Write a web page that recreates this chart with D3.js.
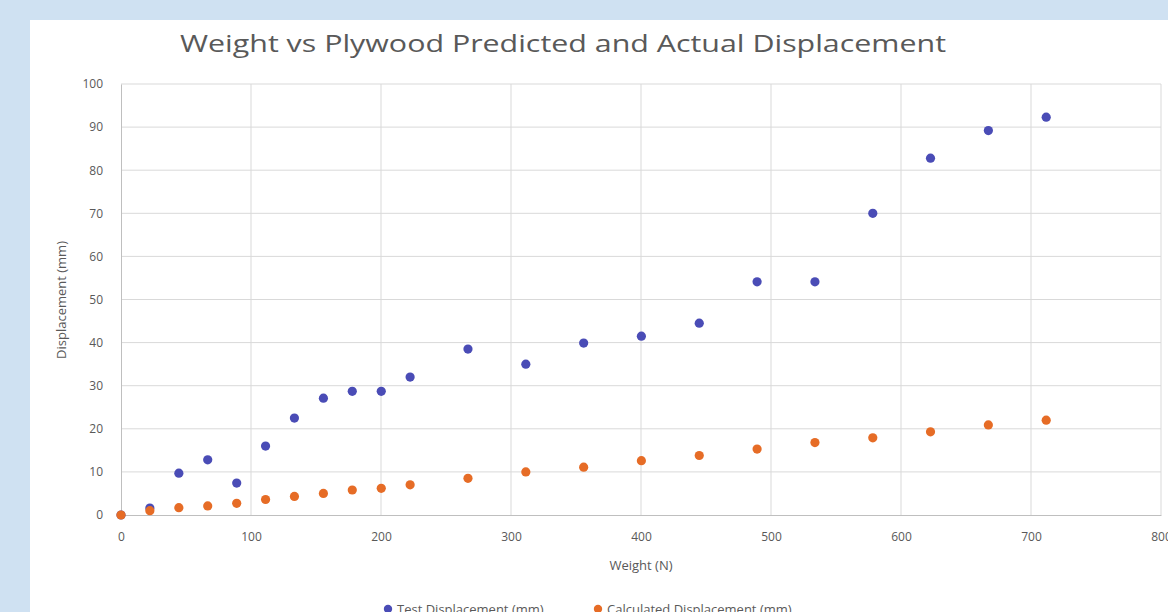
<!DOCTYPE html>
<html>
<head>
<meta charset="utf-8">
<script src="https://cdn.jsdelivr.net/npm/d3@7"></script>
<style>
  html, body { margin: 0; padding: 0; background: #cfe1f2; }
  svg { display: block; }
</style>
</head>
<body>
<svg id="chart" width="1168" height="612"></svg>
<script>
// Applied load (N) for each test step
const weights = [0, 22.2, 44.5, 66.7, 89, 111.2, 133.4, 155.7, 177.9, 200.2, 222.4, 266.9, 311.4, 355.9, 400.3, 444.8, 489.3, 533.8, 578.3, 622.7, 667.2, 711.7];
// Measured displacement (mm)
const testDisp = [0, 1.6, 9.7, 12.8, 7.4, 16.0, 22.5, 27.1, 28.7, 28.7, 32.0, 38.5, 35.0, 39.9, 41.5, 44.5, 54.1, 54.1, 70.0, 82.8, 89.2, 92.3];
// Calculated displacement (mm)
const calcDisp = [0, 1.0, 1.7, 2.1, 2.7, 3.6, 4.3, 5.0, 5.8, 6.2, 7.0, 8.5, 10.0, 11.1, 12.6, 13.8, 15.3, 16.8, 17.9, 19.3, 20.9, 22.0];

const xTicks = [0, 100, 200, 300, 400, 500, 600, 700, 800];
const yTicks = [0, 10, 20, 30, 40, 50, 60, 70, 80, 90, 100];

const seriesNames = ["Test Displacement (mm)", "Calculated Displacement (mm)"];
const seriesColors = ["#4a4cb6", "#e66c26"];

const svg = d3.select("#chart");
const font = "'Open Sans', 'Liberation Sans', sans-serif";
const textColor = "#595959";

// chart panel
svg.append("rect").attr("x", 30).attr("y", 20).attr("width", 1200).attr("height", 650).attr("fill", "#ffffff");

const x = d3.scaleLinear().domain([0, 800]).range([121, 1161]);
const y = d3.scaleLinear().domain([0, 100]).range([515, 84]);

// gridlines
svg.append("g").selectAll("line").data(yTicks.filter(d => d > 0)).join("line")
  .attr("x1", x(0)).attr("x2", x(800))
  .attr("y1", d => y(d)).attr("y2", d => y(d))
  .attr("stroke", "#d9d9d9").attr("stroke-width", 1);
svg.append("g").selectAll("line").data(xTicks.filter(d => d > 0)).join("line")
  .attr("x1", d => x(d)).attr("x2", d => x(d))
  .attr("y1", y(0)).attr("y2", y(100))
  .attr("stroke", "#d9d9d9").attr("stroke-width", 1);

// axes
const xAxis = svg.append("g").attr("transform", `translate(0,${y(0)})`)
  .call(d3.axisBottom(x).tickValues(xTicks).tickSize(0).tickPadding(17));
const yAxis = svg.append("g").attr("transform", `translate(${x(0)},0)`)
  .call(d3.axisLeft(y).tickValues(yTicks).tickSize(0).tickPadding(18));
[xAxis, yAxis].forEach(g => {
  g.select(".domain").attr("stroke", "#bfbfbf").attr("stroke-width", 1);
  g.selectAll("text").attr("fill", textColor).attr("font-family", font).attr("font-size", 12);
});

// points
const series = [testDisp, calcDisp];
series.forEach((vals, i) => {
  svg.append("g").selectAll("circle").data(vals.map((v, j) => [weights[j], v])).join("circle")
    .attr("cx", d => x(d[0])).attr("cy", d => y(d[1]))
    .attr("r", 4.6).attr("fill", seriesColors[i]);
});

// title
svg.append("text").attr("x", 563).attr("y", 52).attr("text-anchor", "middle")
  .attr("font-family", font).attr("font-size", 24).attr("fill", textColor)
  .attr("textLength", 766).attr("lengthAdjust", "spacingAndGlyphs")
  .text("Weight vs Plywood Predicted and Actual Displacement");

// axis titles
svg.append("text").attr("x", 641).attr("y", 570).attr("text-anchor", "middle")
  .attr("font-family", font).attr("font-size", 13).attr("fill", textColor)
  .text("Weight (N)");
svg.append("text").attr("transform", "translate(66,300) rotate(-90)").attr("text-anchor", "middle")
  .attr("font-family", font).attr("font-size", 13).attr("fill", textColor)
  .text("Displacement (mm)");

// legend
const legendX = [388, 598];
seriesNames.forEach((name, i) => {
  svg.append("circle").attr("cx", legendX[i]).attr("cy", 609).attr("r", 4.2).attr("fill", seriesColors[i]);
  svg.append("text").attr("x", legendX[i] + 9).attr("y", 614)
    .attr("font-family", font).attr("font-size", 13).attr("fill", textColor)
    .text(name);
});
</script>
</body>
</html>
